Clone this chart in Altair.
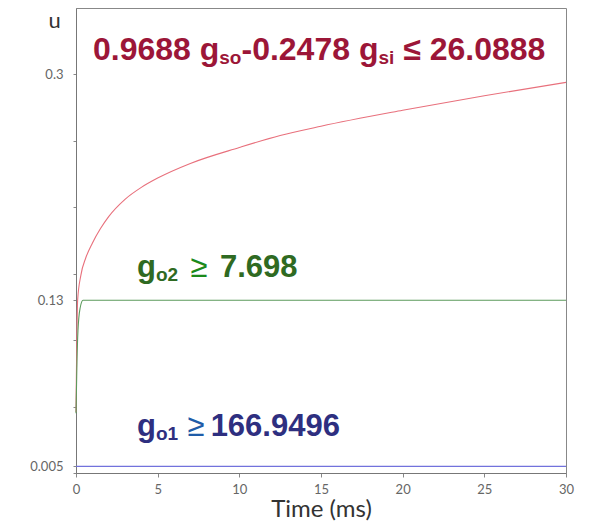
import altair as alt
import pandas as pd

# ---- data ----
red_t = [0, 0.1, 0.3, 0.6, 1, 1.5, 2, 3, 4, 5, 7, 10, 12.5, 15, 20, 25, 30]
red_u = [0.046, 0.130, 0.149, 0.162, 0.173, 0.184, 0.193, 0.206, 0.215, 0.222, 0.233,
         0.245, 0.254, 0.261, 0.273, 0.284, 0.294]
green_t = [0, 0.06, 0.12, 0.25, 0.43, 1.0, 30]
green_u = [0.045, 0.084, 0.107, 0.124, 0.130, 0.130, 0.130]
blue_t = [0, 30]
blue_u = [0.005, 0.005]

x_ticks = [0, 5, 10, 15, 20, 25, 30]
y_ticks = [0, 0.005, 0.05, 0.1, 0.13, 0.15, 0.2, 0.25, 0.3]
y_labels = {0.005: "0.005", 0.13: "0.13", 0.3: "0.3"}

rows = []
for name, ts, us in [("red", red_t, red_u), ("green", green_t, green_u), ("blue", blue_t, blue_u)]:
    for t, u in zip(ts, us):
        rows.append({"series": name, "t": t, "u": u})
df = pd.DataFrame(rows)

W, H = 490, 465
label_expr = " : ".join(
    [f"datum.value == {k} ? '{v}'" for k, v in y_labels.items()]
) + " : ''"

lines = alt.Chart(df).mark_line(strokeWidth=1.1, interpolate="monotone").encode(
    x=alt.X("t:Q", scale=alt.Scale(domain=[0, 30], nice=False),
            axis=alt.Axis(values=x_ticks, title="Time (ms)", titleFont="Lato", titleFontSize=24,
                          titleFontWeight="normal", titleColor="#333", titleY=43,
                          titleBaseline="alphabetic", labelFont="Lato", labelFontSize=13,
                          labelColor="#666", labelPadding=6, tickSize=4, tickColor="#888",
                          domainColor="#777", grid=False, labelFlush=False)),
    y=alt.Y("u:Q", scale=alt.Scale(domain=[0, 0.35], nice=False, zero=False),
            axis=alt.Axis(values=y_ticks, labelExpr=label_expr, title="u", titleAngle=0,
                          titleX=-22, titleY=19, titleAlign="center", titleBaseline="alphabetic",
                          titleFont="Lato", titleFontSize=22, titleFontWeight="normal",
                          titleColor="#333", labelFont="Lato", labelFontSize=13,
                          labelColor="#666", labelPadding=10, tickSize=3, tickColor="#888",
                          domainColor="#777", grid=False)),
    color=alt.Color("series:N", scale=alt.Scale(domain=["red", "green", "blue"],
                                                 range=["#e8707c", "#5c9a5c", "#7272dc"]),
                    legend=None),
    detail="series:N",
)

# ---- annotation text with subscripts ----
CW = {"0": .556, "1": .556, "2": .556, "3": .556, "4": .556, "5": .556, "6": .556, "7": .556,
      "8": .556, "9": .556, ".": .278, " ": .278, "-": .333, "g": .611, "s": .556, "o": .611,
      "i": .278, "≤": .549, "≥": .549}


def width(s, size):
    return sum(CW.get(c, .556) for c in s) * size


def rich(segments, x0, y0, font="Liberation Sans"):
    """segments: (text, size, dy, color, weight, gap_after)"""
    layers = []
    x = x0
    for text, size, dy, color, weight, gap in segments:
        layers.append(
            alt.Chart(pd.DataFrame({"a": [0]})).mark_text(
                text=text, align="left", baseline="alphabetic", font=font,
                fontSize=size, fontWeight=weight, color=color,
            ).encode(x=alt.value(x), y=alt.value(y0 + dy))
        )
        x += width(text, size) + gap
    return layers


RED = "#9c1638"
F1, S1 = 32, 19
line1 = rich([
    ("0.9688", F1, 0, RED, "bold", 0.278 * F1),
    ("g", F1, 0, RED, "bold", 0),
    ("so", S1, 4, RED, "bold", 0),
    ("-0.2478", F1, 0, RED, "bold", 0.278 * F1),
    ("g", F1, 0, RED, "bold", 0),
    ("si", S1, 4, RED, "bold", 0.278 * F1),
    ("≤", F1, 0, RED, "bold", 0.278 * F1),
    ("26.0888", F1, 0, RED, "bold", 0),
], 93 - 76, 60 - 8)

GREEN, GREEN2 = "#2f6a22", "#1b8a1b"
F2, S2 = 31, 19
line2 = rich([
    ("g", F2, 0, GREEN, "bold", 0),
    ("o2", S2, 4, GREEN, "bold", 0.4 * F2),
    ("≥", F2, 0, GREEN2, "normal", 0.4 * F2),
    ("7.698", F2, 0, GREEN, "bold", 0),
], 137 - 76, 277 - 8)

BLUE, BLUE2 = "#2e2f80", "#1f5ca8"
F3, S3 = 31, 19
line3 = rich([
    ("g", F3, 0, BLUE, "bold", 0),
    ("o1", S3, 4, BLUE, "bold", 0.3 * F3),
    ("≥", F3, 0, BLUE2, "normal", 0.2 * F3),
    ("166.9496", F3, 0, BLUE, "bold", 0),
], 137 - 76, 436 - 8)

chart = alt.layer(lines, *line1, *line2, *line3).properties(
    width=W, height=H,
    autosize=alt.AutoSizeParams(type="none"),
    padding={"left": 68, "top": 0, "right": 16, "bottom": 48},
    background="white",
).configure_view(stroke="#888", strokeWidth=1)

chart.save("out.html", embed_options={"renderer": "svg", "actions": False})
